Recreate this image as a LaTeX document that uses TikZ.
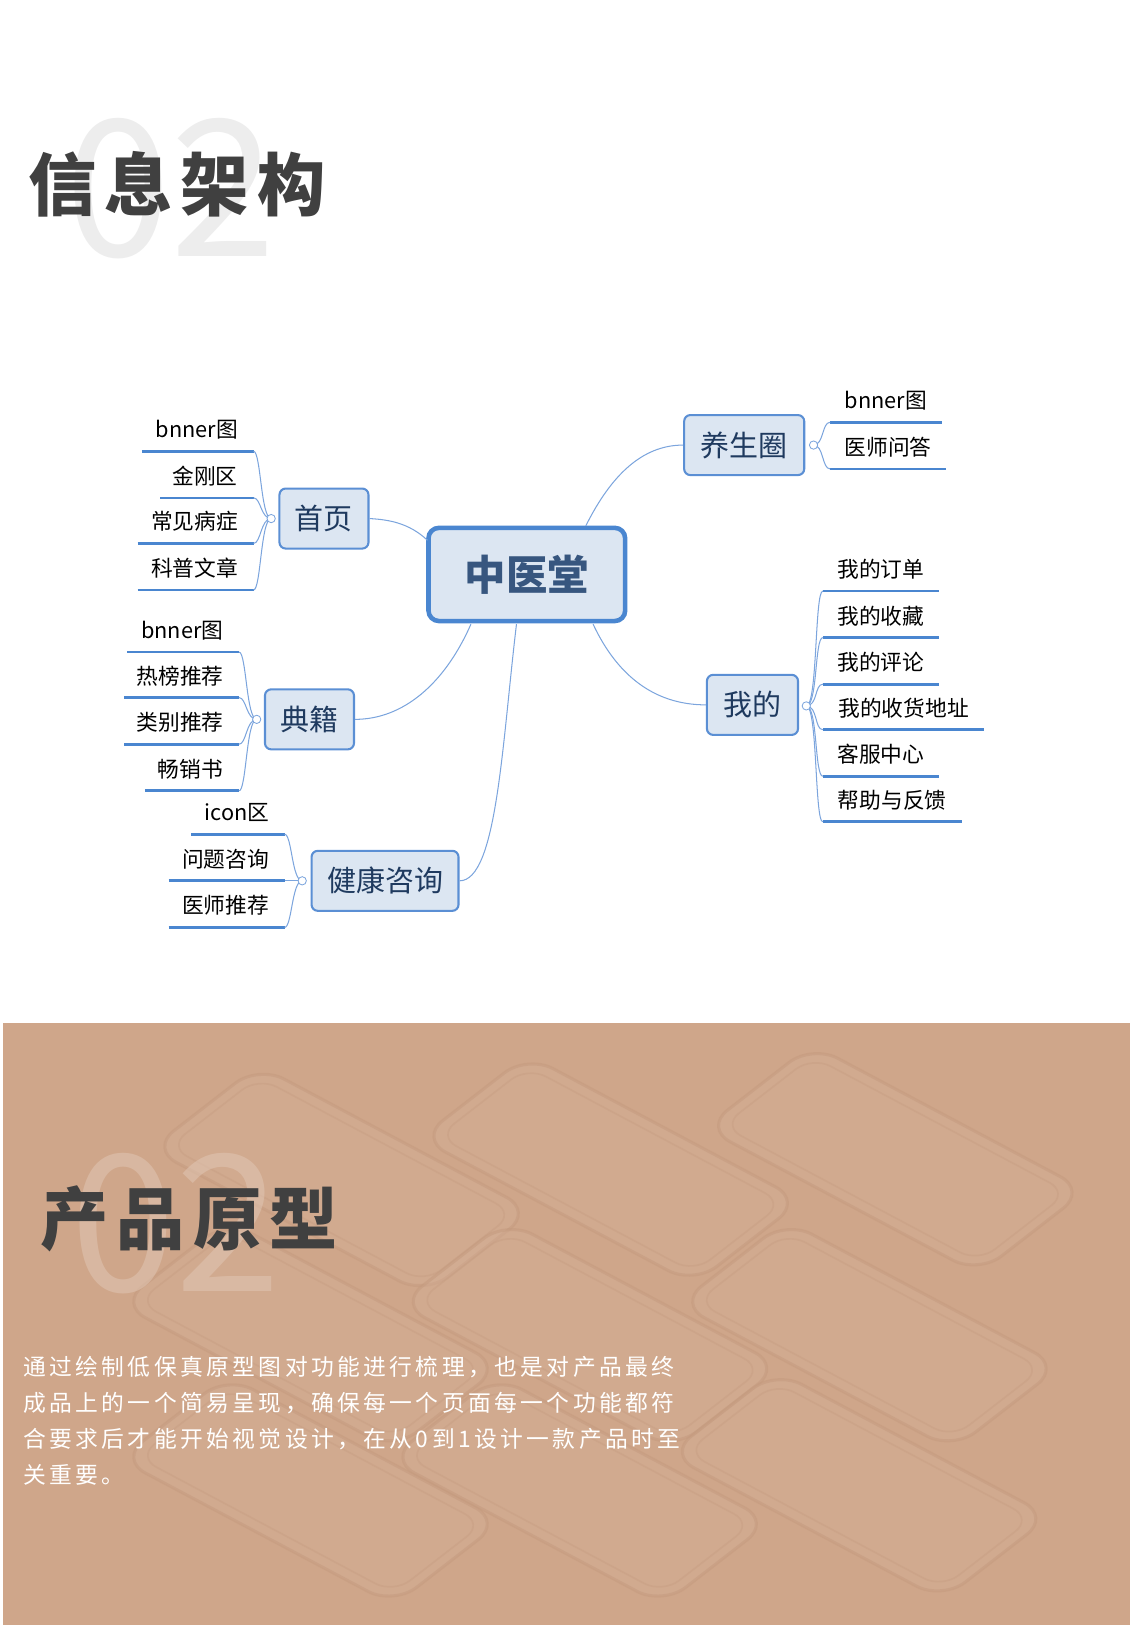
\documentclass[tikz,border=0pt]{standalone}
\usepackage{fontspec}
\usetikzlibrary{calc}
\setmainfont{Noto Sans CJK SC}
\newfontfamily\cjk{Noto Sans CJK SC}
\newfontfamily\cjkwide[LetterSpace=12]{Noto Sans CJK SC}
\newfontfamily\cjkpara[LetterSpace=15]{Noto Sans CJK SC}
\definecolor{boxfill}{HTML}{DCE6F2}
\definecolor{boxline}{HTML}{5B8FD4}
\definecolor{leafline}{HTML}{4A86D0}
\definecolor{txtdark}{HTML}{1F3A5F}
\definecolor{tan}{HTML}{CFA68A}
\definecolor{phone}{HTML}{C49A7E}
\definecolor{tanlight}{HTML}{D6B29A}
\begin{document}
\begin{tikzpicture}[x=0.5pt,y=-0.5pt,
  topic/.style={draw=boxline,line width=1pt,fill=boxfill,rounded corners=3pt,minimum height=29pt,inner xsep=6pt,font=\cjk\fontsize{14}{16}\selectfont,text=txtdark},
  leaf/.style={font=\cjk\fontsize{10.5}{12}\selectfont,text=black,inner sep=0pt},
  uline/.style={draw=leafline,line width=1.3pt},
  conn/.style={draw=boxline!80,line width=0.5pt},
  knob/.style={circle,draw=boxline!80,fill=white,inner sep=0pt,minimum size=4pt,line width=0.4pt},
  phonebox/.style={draw=phone,line width=1.5pt,fill=tanlight,fill opacity=0.35,draw opacity=0.5,rounded corners=14pt}]
\useasboundingbox (0,0) rectangle (1092,1570);
% ---------- top title
\node[font=\cjk\fontsize{92}{92}\selectfont,text=black!7] (n02a) at (165,182) {02};
\node[font=\cjkwide\bfseries\fontsize{33}{36}\selectfont,text=black!75,anchor=west] (t1) at (20,178) {信息架构};
% ---------- mind map
\node[draw=leafline,line width=2.2pt,fill=boxfill,rounded corners=5pt,minimum width=95pt,minimum height=45pt,font=\cjk\bfseries\fontsize{20}{22}\selectfont,text=boxline!60!black] (c) at (509,555) {中医堂};
\node[topic,minimum width=43pt] (sy) at (313,501) {首页};
\node[topic,minimum width=43pt] (dj) at (299,695) {典籍};
\node[topic,minimum width=71pt] (jk) at (372,851) {健康咨询};
\node[topic,minimum width=58pt] (ys) at (719,430) {养生圈};
\node[topic,minimum width=44pt] (wd) at (727,681) {我的};
\draw[conn] (413,522) .. controls (395,505) and (375,502) .. (sy.east);
\draw[conn] (566,508) .. controls (590,460) and (620,430) .. (ys.west);
\draw[conn] (573,603) .. controls (595,650) and (630,681) .. (wd.west);
\draw[conn] (455,603) .. controls (430,660) and (390,695) .. (dj.east);
\draw[conn] (499,603) .. controls (485,720) and (480,851) .. (jk.east);
% left groups
\coordinate (k1) at (262,501);
\foreach \tx/\cx/\x/\y in {bnner图/190/137/436, 金刚区/198/155/481, 常见病症/188/133/525, 科普文章/188/133/570} {
  \node[leaf] at (\cx,\y-21) {\tx};
  \draw[uline] (\x,\y) -- (245,\y);
  \draw[conn] (k1) .. controls (252,501) and (252,\y) .. (245,\y);
}
\node[knob] (kn1) at (k1) {};
\coordinate (k2) at (248,695);
\foreach \tx/\cx/\x/\y in {bnner图/176/123/630, 热榜推荐/174/120/674, 类别推荐/174/120/719, 畅销书/184/140/764} {
  \node[leaf] at (\cx,\y-21) {\tx};
  \draw[uline] (\x,\y) -- (231,\y);
  \draw[conn] (k2) .. controls (238,695) and (238,\y) .. (231,\y);
}
\node[knob] (kn2) at (k2) {};
\coordinate (k3) at (292,851);
\foreach \tx/\cx/\x/\y in {icon区/229/185/806, 问题咨询/218/163/851, 医师推荐/218/163/896} {
  \node[leaf] at (\cx,\y-21) {\tx};
  \draw[uline] (\x,\y) -- (275,\y);
  \draw[conn] (k3) .. controls (282,851) and (282,\y) .. (275,\y);
}
\node[knob] (kn3) at (k3) {};
% right groups
\coordinate (k4) at (786,430);
\foreach \tx/\cx/\x/\y in {bnner图/856/910/408, 医师问答/858/914/453} {
  \node[leaf] at (\cx,\y-21) {\tx};
  \draw[uline] (802,\y) -- (\x,\y);
  \draw[conn] (k4) .. controls (796,430) and (794,\y) .. (802,\y);
}
\node[knob] (kn4) at (k4) {};
\coordinate (k5) at (779,682);
\foreach \tx/\cx/\x/\y in {我的订单/851/907/571, 我的收藏/851/907/616, 我的评论/851/907/661, 我的收货地址/873/951/705, 客服中心/851/907/750, 帮助与反馈/862/929/794} {
  \node[leaf] at (\cx,\y-21) {\tx};
  \draw[uline] (795,\y) -- (\x,\y);
  \draw[conn] (k5) .. controls (790,682) and (787,\y) .. (795,\y);
}
\node[knob] (kn5) at (k5) {};
% ---------- bottom panel
\fill[tan] (3,988) rectangle (1092,1570);
\begin{scope}
\clip (3,988) rectangle (1092,1570);
\foreach \px/\py in {330/1140, 590/1130, 865/1120, 300/1290, 570/1290, 840/1290, 300/1440, 560/1440, 830/1435} {
  \begin{scope}[shift={(\px,\py)},rotate=-28,xslant=0.45]
    \path[phonebox] (-150,-60) rectangle (150,60);
    \draw[phone,draw opacity=0.35,line width=0.8pt,rounded corners=10pt] (-140,-50) rectangle (140,50);
  \end{scope}
}
\end{scope}
\node[font=\cjk\fontsize{92}{92}\selectfont,text=tanlight!70!white,opacity=0.5] (n02b) at (170,1182) {02};
\node[font=\cjkwide\bfseries\fontsize{33}{36}\selectfont,text=black!75,anchor=west] (t2) at (32,1178) {产品原型};
\node[font=\cjkpara\fontsize{11}{17.4}\selectfont,text=white,anchor=north west,align=left,inner sep=0pt] (para) at (22,1310) {通过绘制低保真原型图对功能进行梳理，也是对产品最终\\成品上的一个简易呈现，确保每一个页面每一个功能都符\\合要求后才能开始视觉设计，在从0到1设计一款产品时至\\关重要。};
\end{tikzpicture}
\end{document}
